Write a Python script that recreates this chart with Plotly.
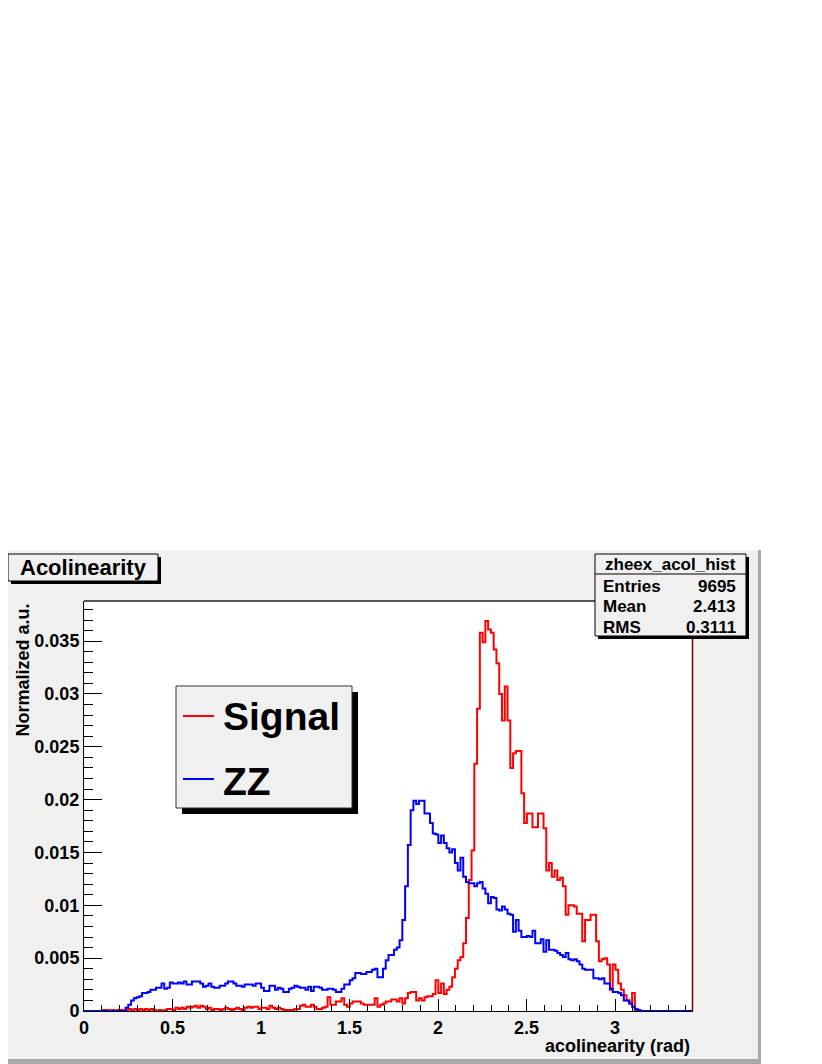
import numpy as np
import plotly.graph_objects as go

# ROOT histogram binning: 220 bins from 0 to 3.44 rad
x_lo, x_hi, n_bins = 0.0, 3.44, 220

# bin contents (normalized a.u.)
signal = [
    0, 0, 0, 0, 0, 0, 0, 0.0001, 0.0001, 0,
    0.0001, 0, 0.0001, 0.0001, 0, 0.0001, 0.0002, 0.0001, 0.0002, 0.0001,
    0.0002, 0.0001, 0.0002, 0.0001, 0.0002, 0.0001, 0, 0.0001, 0, 0.0001,
    0.0002, 0.0002, 0.0001, 0.0003, 0.0002, 0.0003, 0.0002, 0.0004, 0.0003, 0.0004,
    0.0005, 0.0003, 0.0005, 0.0004, 0.0002, 0.0003, 0.0001, 0.0002, 0.0002, 0.0001,
    0.0002, 0.0003, 0.0002, 0.0001, 0.0002, 0.0003, 0.0002, 0.0001, 0.0003, 0.0004,
    0.0003, 0.0004, 0.0004, 0.0002, 0.0003, 0.0003, 0.0002, 0.0005, 0.0003, 0.0002,
    0.0003, 0.0002, 0.0001, 0.0001, 0.0001, 0.0001, 0.0002, 0.0002, 0.0005, 0.0006,
    0.0004, 0.0004, 0.0006, 0.0004, 0.0002, 0.0002, 0.0003, 0.0004, 0.0013, 0.0006,
    0.0006, 0.0009, 0.0009, 0.0012, 0.0006, 0.0004, 0.0007, 0.0009, 0.0009, 0.0009,
    0.0007, 0.0006, 0.0006, 0.0006, 0.0006, 0.0012, 0.0004, 0.0006, 0.0007, 0.0009,
    0.0009, 0.0011, 0.0011, 0.0009, 0.0012, 0.0007, 0.0012, 0.0017, 0.0018, 0.0018,
    0.0010, 0.0012, 0.0010, 0.0013, 0.0014, 0.0014, 0.0016, 0.0029, 0.0017, 0.0026,
    0.0016, 0.0020, 0.0023, 0.0032, 0.0040, 0.0048, 0.0051, 0.0064, 0.0088, 0.0124,
    0.0152, 0.0234, 0.0286, 0.0358, 0.0349, 0.0369, 0.0361, 0.0358, 0.0342, 0.0329,
    0.0300, 0.0275, 0.0307, 0.0275, 0.0230, 0.0244, 0.0246, 0.0246, 0.0206, 0.0178,
    0.0187, 0.0187, 0.0174, 0.0174, 0.0187, 0.0187, 0.0173, 0.0133, 0.0140, 0.0127,
    0.0133, 0.0124, 0.0126, 0.0118, 0.0091, 0.0100, 0.0100, 0.0099, 0.0092, 0.0092,
    0.0066, 0.0086, 0.0086, 0.0091, 0.0091, 0.0066, 0.0047, 0.0049, 0.0050, 0.0044,
    0.0020, 0.0044, 0.0039, 0.0026, 0.0020, 0.0015, 0.0010, 0.0007, 0.0017, 0,
    0, 0, 0, 0, 0, 0, 0, 0, 0, 0,
    0, 0, 0, 0, 0, 0, 0, 0, 0, 0,
]

zz = [
    0, 0, 0, 0, 0, 0, 0, 0, 0, 0,
    0, 0, 0, 0, 0, 0.0003, 0.0006, 0.0010, 0.0012, 0.0013,
    0.0014, 0.0017, 0.0017, 0.0018, 0.0020, 0.0020, 0.0022, 0.0022, 0.0026, 0.0021,
    0.0022, 0.0027, 0.0026, 0.0026, 0.0027, 0.0026, 0.0028, 0.0025, 0.0025, 0.0028,
    0.0028, 0.0028, 0.0026, 0.0023, 0.0024, 0.0026, 0.0023, 0.0022, 0.0022, 0.0024,
    0.0024, 0.0026, 0.0028, 0.0028, 0.0026, 0.0024, 0.0024, 0.0023, 0.0025, 0.0025,
    0.0025, 0.0024, 0.0026, 0.0026, 0.0022, 0.0019, 0.0019, 0.0024, 0.0024, 0.0020,
    0.0022, 0.0021, 0.0018, 0.0018, 0.0021, 0.0022, 0.0024, 0.0023, 0.0022, 0.0022,
    0.0020, 0.0023, 0.0019, 0.0023, 0.0023, 0.0022, 0.0020, 0.0020, 0.0021, 0.0021,
    0.0020, 0.0018, 0.0018, 0.0021, 0.0025, 0.0025, 0.0029, 0.0031, 0.0036, 0.0036,
    0.0035, 0.0035, 0.0037, 0.0037, 0.0039, 0.0040, 0.0032, 0.0032, 0.0040, 0.0048,
    0.0053, 0.0053, 0.0058, 0.0060, 0.0067, 0.0086, 0.0118, 0.0157, 0.0190, 0.0199,
    0.0196, 0.0199, 0.0199, 0.0187, 0.0187, 0.0178, 0.0168, 0.0167, 0.0159, 0.0166,
    0.0159, 0.0154, 0.0150, 0.0153, 0.0140, 0.0133, 0.0145, 0.0127, 0.0122, 0.0121,
    0.0121, 0.0118, 0.0121, 0.0122, 0.0116, 0.0111, 0.0102, 0.0108, 0.0107, 0.0096,
    0.0095, 0.0099, 0.0096, 0.0092, 0.0091, 0.0075, 0.0086, 0.0076, 0.0070, 0.0070,
    0.0071, 0.0070, 0.0076, 0.0064, 0.0064, 0.0068, 0.0056, 0.0067, 0.0058, 0.0058,
    0.0057, 0.0055, 0.0053, 0.0051, 0.0055, 0.0049, 0.0048, 0.0049, 0.0047, 0.0044,
    0.0040, 0.0039, 0.0039, 0.0039, 0.0031, 0.0031, 0.0030, 0.0031, 0.0026, 0.0026,
    0.0021, 0.0018, 0.0018, 0.0017, 0.0015, 0.0010, 0.0010, 0.0007, 0.0004, 0.0002,
    0.0001, 0, 0, 0, 0, 0, 0, 0, 0, 0,
    0, 0, 0, 0, 0, 0, 0, 0, 0, 0,
]

stats_name = "zheex_acol_hist"
stats_labels = ["Entries", "Mean", "RMS"]
stats_values = ["9695", "2.413", "0.3111"]

x_ticks = [0, 0.5, 1, 1.5, 2, 2.5, 3]
x_tick_text = ["0", "0.5", "1", "1.5", "2", "2.5", "3"]
y_ticks = [0, 0.005, 0.01, 0.015, 0.02, 0.025, 0.03, 0.035]
y_tick_text = ["0", "0.005", "0.01", "0.015", "0.02", "0.025", "0.03", "0.035"]

# the page body has an 8px margin, so the figure sits at (8, 8) on the page;
# everything below is given in page pixels and shifted by OFF
OFF = 8
W, H = 822 - OFF, 1064 - OFF
L, R, T, B = 84, 693, 601, 1011
FONT = "Liberation Sans"


def px(x):
    return (x - L) / (R - L)


def py(y):
    return (B - y) / (B - T)


def rect(x0, y0, x1, y1, fill, line=None, lw=0, layer="above"):
    return dict(type="rect", xref="paper", yref="paper",
                x0=px(x0), x1=px(x1), y0=py(y1), y1=py(y0),
                fillcolor=fill, layer=layer,
                line=dict(color=line or fill, width=lw))


def seg(x0, y0, x1, y1, color, lw=1):
    return dict(type="line", xref="paper", yref="paper",
                x0=px(x0), x1=px(x1), y0=py(y0), y1=py(y1),
                line=dict(color=color, width=lw), layer="above")


def text(x, y, s, size, xanchor="left", angle=0, yanchor="middle"):
    return dict(x=px(x), y=py(y), xref="paper", yref="paper", text=s,
                showarrow=False, xanchor=xanchor, yanchor=yanchor,
                textangle=angle,
                font=dict(family=FONT, size=size, color="black", weight="bold"))


edges = np.linspace(x_lo, x_hi, n_bins + 1)

fig = go.Figure()
for vals, col in [(signal, "#ff0000"), (zz, "#0000ff")]:
    fig.add_trace(go.Scatter(
        x=edges, y=list(vals) + [vals[-1]], mode="lines",
        line=dict(color=col, width=2, shape="hv"),
        showlegend=False, hoverinfo="skip"))

shapes = [
    # canvas
    rect(0, 550, 761, 1064, "#f0f0f0", layer="below"),
    rect(758, 550, 761, 1064, "#a8a8a8", layer="below"),
    rect(0, 1059, 761, 1064, "#a8a8a8", layer="below"),
    rect(L, T, R, B, "white", layer="below"),
    # frame
    seg(L, T, R, T, "#555555", 2),
    seg(R - 0.5, T, R - 0.5, B, "#7a0000", 1.5),
    # legend
    rect(182, 692, 358, 814, "black"),
    rect(176, 686, 352, 808, "#f0f0f0", "#333333", 1),
    seg(183, 716, 214, 716, "#ff0000", 2),
    seg(183, 779, 214, 779, "#0000ff", 2),
    # title box
    rect(11, 557, 161, 584, "black"),
    rect(8, 554, 158, 581, "#f0f0f0", "black", 1),
    # stats box
    rect(598, 557, 749, 639, "black"),
    rect(595, 554, 746, 636, "#f0f0f0", "black", 1),
    seg(595, 574, 746, 574, "black", 1),
]

annotations = [
    text(18, 567, "Acolinearity", 22),
    text(670.5, 564, stats_name, 17, xanchor="center"),
    text(221, 716, "Signal", 39),
    text(221, 781, "ZZ", 39),
    text(692, 1034, "acolinearity (rad)", 18, xanchor="right", yanchor="top"),
    text(22, 602, "Normalized a.u.", 18, xanchor="center", angle=-90, yanchor="top"),
]
for i, (lab, val) in enumerate(zip(stats_labels, stats_values)):
    yy = 586 + 20.5 * i
    annotations.append(text(601, yy, lab, 17))
    annotations.append(text(738, yy, val, 17, xanchor="right"))

tick_font = dict(family=FONT, size=18, color="black", weight="bold")

fig.update_layout(
    width=W, height=H,
    margin=dict(l=L - OFF, r=W - (R - OFF), t=T - OFF, b=H - (B - OFF), pad=0),
    paper_bgcolor="white", plot_bgcolor="white",
    shapes=shapes, annotations=annotations,
    xaxis=dict(range=[x_lo, x_hi], tickmode="array", tickvals=x_ticks,
               ticktext=x_tick_text, ticks="inside", ticklen=12,
               tickcolor="black", tickwidth=1, showline=True,
               linecolor="black", linewidth=1, showgrid=False,
               zeroline=False, tickfont=tick_font, automargin=False,
               minor=dict(tickmode="linear", tick0=0, dtick=0.1,
                          ticks="inside", ticklen=6, tickcolor="black",
                          showgrid=False)),
    yaxis=dict(range=[0, 0.0388], tickmode="array", tickvals=y_ticks,
               ticktext=y_tick_text, ticks="inside", ticklen=18,
               tickcolor="black", tickwidth=1, showline=True,
               linecolor="black", linewidth=1, showgrid=False,
               zeroline=False, tickfont=tick_font, automargin=False,
               minor=dict(tickmode="linear", tick0=0, dtick=0.001,
                          ticks="inside", ticklen=9, tickcolor="black",
                          showgrid=False)),
)

fig.write_html("out.html")
